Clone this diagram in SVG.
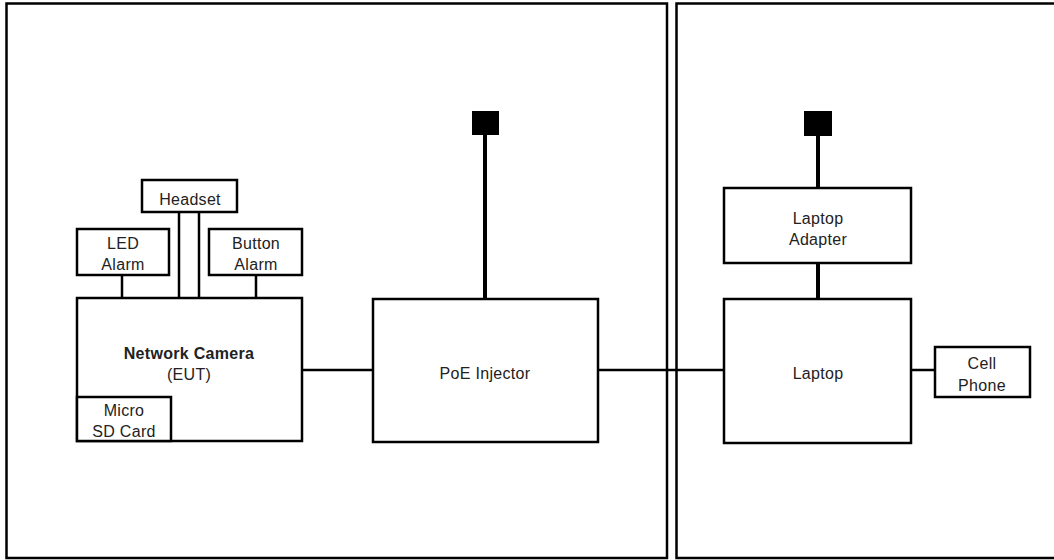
<svg xmlns="http://www.w3.org/2000/svg" width="1054" height="560" viewBox="0 0 1054 560">
<style>
.frame{fill:none;stroke:#000;stroke-width:2.5}
.box{fill:#fff;stroke:#000;stroke-width:2.5}
.ln{stroke:#000;stroke-width:2.5;fill:none}
.pw{stroke:#000;stroke-width:4;fill:none}
.plug{fill:#000}
text{font-family:"Liberation Sans",Arial,sans-serif;font-size:16px;fill:#222;text-anchor:middle;letter-spacing:0.3px}
.b{font-weight:bold}
</style>
<rect width="1054" height="560" fill="#fff"/>
<rect class="frame" x="6.5" y="3.5" width="660.5" height="554.5"/>
<rect class="frame" x="676.5" y="3.5" width="390" height="554.5"/>
<g id="connectors">
<line class="ln" x1="122" y1="275" x2="122" y2="298"/>
<line class="ln" x1="256" y1="275" x2="256" y2="298"/>
<line class="ln" x1="179" y1="212" x2="179" y2="298"/>
<line class="ln" x1="199" y1="212" x2="199" y2="298"/>
<line class="ln" x1="302" y1="370" x2="373" y2="370"/>
<line class="ln" x1="598" y1="370" x2="724" y2="370"/>
<line class="ln" x1="911" y1="370" x2="935" y2="370"/>
<line class="pw" x1="485" y1="134" x2="485" y2="299"/>
<line class="pw" x1="818" y1="134" x2="818" y2="188"/>
<line class="pw" x1="818" y1="263" x2="818" y2="299"/>
</g>
<g id="headset"><rect class="box" x="142" y="180" width="95" height="32"/><text x="190" y="205">Headset</text></g>
<g id="led-alarm"><rect class="box" x="77" y="229" width="92" height="46"/><text x="123" y="249">LED</text><text x="123" y="270">Alarm</text></g>
<g id="button-alarm"><rect class="box" x="209" y="229" width="93" height="46"/><text x="256" y="249">Button</text><text x="256" y="270">Alarm</text></g>
<g id="network-camera"><rect class="box" x="77" y="298" width="225" height="143"/><text class="b" x="189" y="359">Network Camera</text><text x="189" y="380">(EUT)</text></g>
<g id="micro-sd"><rect class="box" x="77" y="397" width="94" height="44"/><text x="124" y="416">Micro</text><text x="124" y="437">SD Card</text></g>
<g id="poe-plug"><rect class="plug" x="472" y="111" width="27" height="24"/></g>
<g id="poe-injector"><rect class="box" x="373" y="299" width="225" height="143"/><text x="485" y="379">PoE Injector</text></g>
<g id="laptop-plug"><rect class="plug" x="804" y="111" width="28" height="25"/></g>
<g id="laptop-adapter"><rect class="box" x="724" y="188" width="187" height="75"/><text x="818" y="224">Laptop</text><text x="818" y="245">Adapter</text></g>
<g id="laptop"><rect class="box" x="724" y="299" width="187" height="144"/><text x="818" y="379">Laptop</text></g>
<g id="cell-phone"><rect class="box" x="935" y="347" width="95" height="50"/><text x="982" y="369">Cell</text><text x="982" y="391">Phone</text></g>
</svg>
